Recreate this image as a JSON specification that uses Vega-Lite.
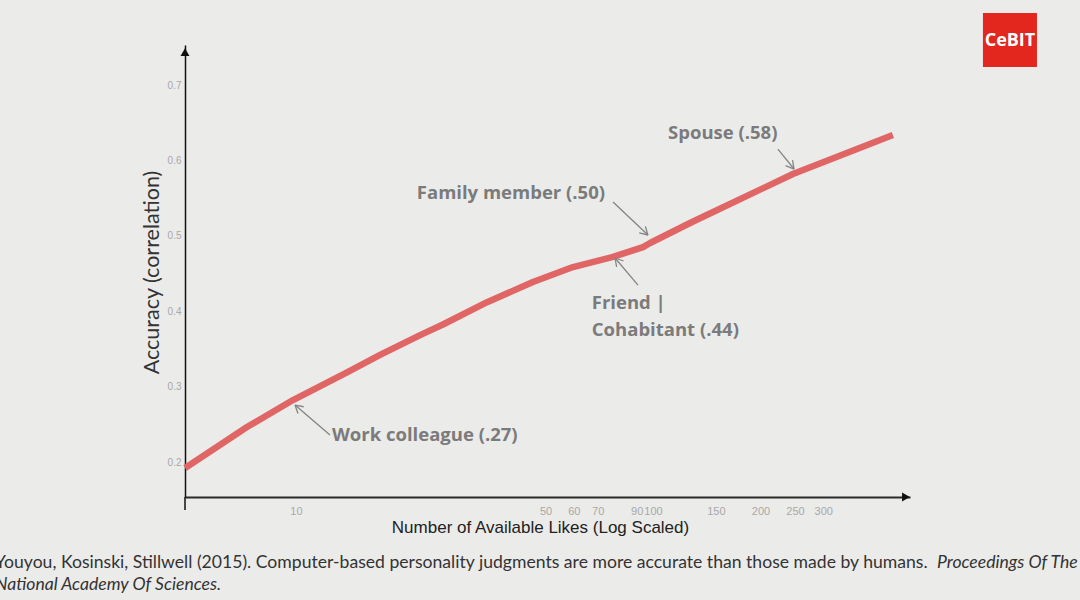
{
  "$schema": "https://vega.github.io/schema/vega-lite/v6.json",
  "width": 725,
  "height": 452,
  "autosize": {"type": "none"},
  "padding": {"left": 185, "top": 45, "right": 170, "bottom": 103},
  "background": "#ebebea",
  "config": {"view": {"stroke": null}},
  "datasets": {
    "curve": [
      {"x": 4.89, "y": 0.192}, {"x": 6.12, "y": 0.2225}, {"x": 7.29, "y": 0.2464},
      {"x": 9.81, "y": 0.2822}, {"x": 13.9, "y": 0.319}, {"x": 17.2, "y": 0.342},
      {"x": 22.2, "y": 0.368}, {"x": 25.8, "y": 0.3824}, {"x": 34.3, "y": 0.412},
      {"x": 46.1, "y": 0.4387}, {"x": 59.7, "y": 0.4586}, {"x": 77.3, "y": 0.472},
      {"x": 93.8, "y": 0.4851}, {"x": 98.2, "y": 0.4905}, {"x": 127, "y": 0.517},
      {"x": 246.6, "y": 0.582}, {"x": 470, "y": 0.6337}
    ],
    "arrows": [
      {"x": 12.45, "y": 0.2358, "x2": 9.94, "y2": 0.2756},
      {"x": 10.13, "y": 0.2643, "x2": 9.94, "y2": 0.2756},
      {"x": 10.51, "y": 0.2733, "x2": 9.94, "y2": 0.2756},
      {"x": 77.3, "y": 0.5448, "x2": 96.8, "y2": 0.5011},
      {"x": 95.2, "y": 0.5125, "x2": 96.8, "y2": 0.5011},
      {"x": 91.5, "y": 0.5038, "x2": 96.8, "y2": 0.5011},
      {"x": 223.9, "y": 0.6151, "x2": 248.4, "y2": 0.5886},
      {"x": 246.0, "y": 0.6004, "x2": 248.4, "y2": 0.5886},
      {"x": 235.2, "y": 0.593, "x2": 248.4, "y2": 0.5886},
      {"x": 90.8, "y": 0.4347, "x2": 78.3, "y2": 0.4706},
      {"x": 79.1, "y": 0.4588, "x2": 78.3, "y2": 0.4706},
      {"x": 82.7, "y": 0.4666, "x2": 78.3, "y2": 0.4706}
    ],
    "labelsLeft": [
      {"x": 12.61, "y": 0.2358, "label": "Work colleague (.27)"},
      {"x": 110.2, "y": 0.6363, "label": "Spouse (.58)"},
      {"x": 67.4, "y": 0.4109, "label": "Friend |"},
      {"x": 67.4, "y": 0.375, "label": "Cohabitant (.44)"}
    ],
    "labelsRight": [
      {"x": 73.4, "y": 0.5568, "label": "Family member (.50)"}
    ],
    "axisExt": [{"x": 4.888, "y": 0.1536, "x2": 4.888, "y2": 0.1364}],
    "arrowUp": [{"x": 4.888, "y": 0.7438}],
    "arrowRight": [{"x": 511.2, "y": 0.1536}],
    "logo": [{"x": 1000, "y": 0.7597, "label": "CeBIT"}],
    "footNormal": [
      {"x": 1.435, "y": 0.066, "label": "Youyou, Kosinski, Stillwell  (2015). Computer-based personality judgments are more accurate than those made by humans."}
    ],
    "footItalic": [
      {"x": 624.5, "y": 0.066, "label": "Proceedings Of The"},
      {"x": 1.435, "y": 0.0369, "label": "National Academy Of Sciences."}
    ]
  },
  "encoding": {
    "x": {
      "field": "x",
      "type": "quantitative",
      "scale": {"type": "log", "domain": [4.888, 524.8], "nice": false},
      "axis": {
        "values": [10, 50, 60, 70, 90, 100, 150, 200, 250, 300],
        "format": "d",
        "grid": false,
        "ticks": false,
        "labelPadding": 8,
        "labelFont": "Liberation Sans Narrow, Liberation Sans",
        "labelFontSize": 11,
        "labelColor": "#a8a8a8",
        "labelOverlap": false,
        "labelFlush": false,
        "domainColor": "#2a2a2a",
        "domainWidth": 2,
        "title": "Number of Available Likes (Log Scaled)",
        "titleFont": "Liberation Sans Narrow, Liberation Sans",
        "titleFontSize": 17,
        "titleFontWeight": "normal",
        "titleColor": "#222222",
        "titleX": 355,
        "titleY": 30,
        "titleBaseline": "middle"
      }
    },
    "y": {
      "field": "y",
      "type": "quantitative",
      "scale": {"domain": [0.1536, 0.7531], "nice": false, "zero": false},
      "axis": {
        "values": [0.2, 0.3, 0.4, 0.5, 0.6, 0.7],
        "format": ".1f",
        "grid": false,
        "ticks": false,
        "labelPadding": 4,
        "labelFont": "Liberation Sans",
        "labelFontSize": 10,
        "labelColor": "#a8a8a8",
        "domainColor": "#111111",
        "domainWidth": 1.5,
        "title": "Accuracy (correlation)",
        "titleFont": "Lato",
        "titleFontSize": 21.5,
        "titleFontWeight": "normal",
        "titleColor": "#333333",
        "titleX": -33,
        "titleY": 227,
        "titleAngle": -90,
        "titleAlign": "center",
        "titleBaseline": "middle"
      }
    }
  },
  "layer": [
    {
      "data": {"name": "curve"},
      "mark": {"type": "line", "color": "#e06666", "strokeWidth": 6.5, "strokeJoin": "round"}
    },
    {
      "data": {"name": "arrows"},
      "mark": {"type": "rule", "color": "#848484", "strokeWidth": 1.3},
      "encoding": {"x2": {"field": "x2"}, "y2": {"field": "y2"}}
    },
    {
      "data": {"name": "labelsLeft"},
      "mark": {"type": "text", "align": "left", "baseline": "middle", "font": "Open Sans", "fontWeight": "bold", "fontSize": 18.5, "color": "#7b7b7b"},
      "encoding": {"text": {"field": "label"}}
    },
    {
      "data": {"name": "labelsRight"},
      "mark": {"type": "text", "align": "right", "baseline": "middle", "font": "Open Sans", "fontWeight": "bold", "fontSize": 18.5, "color": "#7b7b7b"},
      "encoding": {"text": {"field": "label"}}
    },
    {
      "data": {"name": "axisExt"},
      "mark": {"type": "rule", "color": "#111111", "strokeWidth": 1.5},
      "encoding": {"x2": {"field": "x2"}, "y2": {"field": "y2"}}
    },
    {
      "data": {"name": "arrowUp"},
      "mark": {"type": "point", "shape": "triangle-up", "filled": true, "color": "#111111", "size": 80, "opacity": 1}
    },
    {
      "data": {"name": "arrowRight"},
      "mark": {"type": "point", "shape": "triangle-right", "filled": true, "color": "#111111", "size": 80, "opacity": 1}
    },
    {
      "data": {"name": "logo"},
      "mark": {"type": "point", "shape": "square", "filled": true, "color": "#e3261e", "size": 2916, "opacity": 1}
    },
    {
      "data": {"name": "logo"},
      "mark": {"type": "text", "align": "center", "baseline": "middle", "font": "Open Sans", "fontWeight": "bold", "fontSize": 18, "color": "#ffffff", "dy": 1},
      "encoding": {"text": {"field": "label"}}
    },
    {
      "data": {"name": "footNormal"},
      "mark": {"type": "text", "align": "left", "baseline": "middle", "font": "Lato", "fontSize": 17.6, "color": "#333333"},
      "encoding": {"text": {"field": "label"}}
    },
    {
      "data": {"name": "footItalic"},
      "mark": {"type": "text", "align": "left", "baseline": "middle", "font": "Lato", "fontStyle": "italic", "fontSize": 17.6, "color": "#333333"},
      "encoding": {"text": {"field": "label"}}
    }
  ]
}
